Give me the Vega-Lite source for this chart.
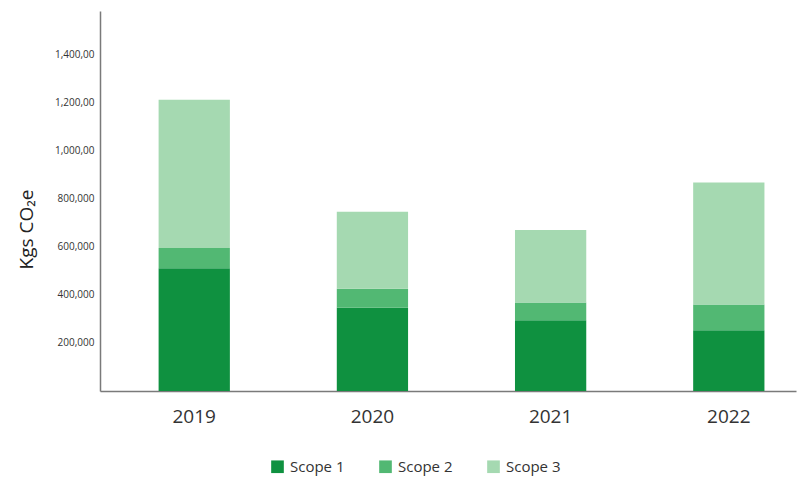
{
  "$schema": "https://vega.github.io/schema/vega-lite/v6.json",
  "autosize": "none",
  "width": 696,
  "height": 380,
  "padding": {"left": 100, "top": 11, "right": 6, "bottom": 86},
  "background": "white",
  "config": {
    "view": {"stroke": null},
    "font": "Open Sans"
  },
  "data": {
    "values": [
      {"year": "2019", "scope": "Scope 1", "value": 510000},
      {"year": "2019", "scope": "Scope 2", "value": 85000},
      {"year": "2019", "scope": "Scope 3", "value": 616000},
      {"year": "2020", "scope": "Scope 1", "value": 346000},
      {"year": "2020", "scope": "Scope 2", "value": 79000},
      {"year": "2020", "scope": "Scope 3", "value": 320000},
      {"year": "2021", "scope": "Scope 1", "value": 294000},
      {"year": "2021", "scope": "Scope 2", "value": 74000},
      {"year": "2021", "scope": "Scope 3", "value": 301000},
      {"year": "2022", "scope": "Scope 1", "value": 253000},
      {"year": "2022", "scope": "Scope 2", "value": 107000},
      {"year": "2022", "scope": "Scope 3", "value": 507000}
    ]
  },
  "mark": {"type": "bar"},
  "encoding": {
    "x": {
      "field": "year",
      "type": "nominal",
      "scale": {"paddingInner": 0.6, "paddingOuter": 0.253, "align": 0.65},
      "axis": {
        "title": null,
        "labelAngle": 0,
        "labelFontSize": 19,
        "labelColor": "#333333",
        "labelPadding": 16,
        "ticks": false,
        "domainColor": "#7a7a7a",
        "domainWidth": 1.5
      }
    },
    "y": {
      "field": "value",
      "type": "quantitative",
      "stack": "zero",
      "scale": {"domain": [0, 1580000], "nice": false},
      "axis": {
        "title": "Kgs CO₂e",
        "titleFontSize": 19,
        "titleFontWeight": "normal",
        "titleColor": "#222222",
        "titleAngle": -90,
        "titleX": -74,
        "titleY": 218,
        "titleAlign": "center",
        "titleBaseline": "middle",
        "values": [200000, 400000, 600000, 800000, 1000000, 1200000, 1400000],
        "labelExpr": "datum.value >= 1000000 ? slice(format(datum.value, ','), 0, -1) : format(datum.value, ',')",
        "labelFontSize": 10,
        "labelColor": "#333333",
        "labelPadding": 6,
        "ticks": false,
        "grid": false,
        "domainColor": "#7a7a7a",
        "domainWidth": 1.5
      }
    },
    "color": {
      "field": "scope",
      "type": "nominal",
      "scale": {
        "domain": ["Scope 1", "Scope 2", "Scope 3"],
        "range": ["#0f9140", "#52b873", "#a5d9b1"]
      },
      "legend": {
        "title": null,
        "orient": "none",
        "direction": "horizontal",
        "legendX": 170,
        "legendY": 448,
        "symbolType": "square",
        "symbolSize": 160,
        "symbolStrokeWidth": 0,
        "symbolOpacity": 1,
        "labelFontSize": 15,
        "labelColor": "#333333",
        "labelOffset": 5,
        "columnPadding": 33
      }
    },
    "order": {"field": "scope", "sort": "ascending"}
  }
}
